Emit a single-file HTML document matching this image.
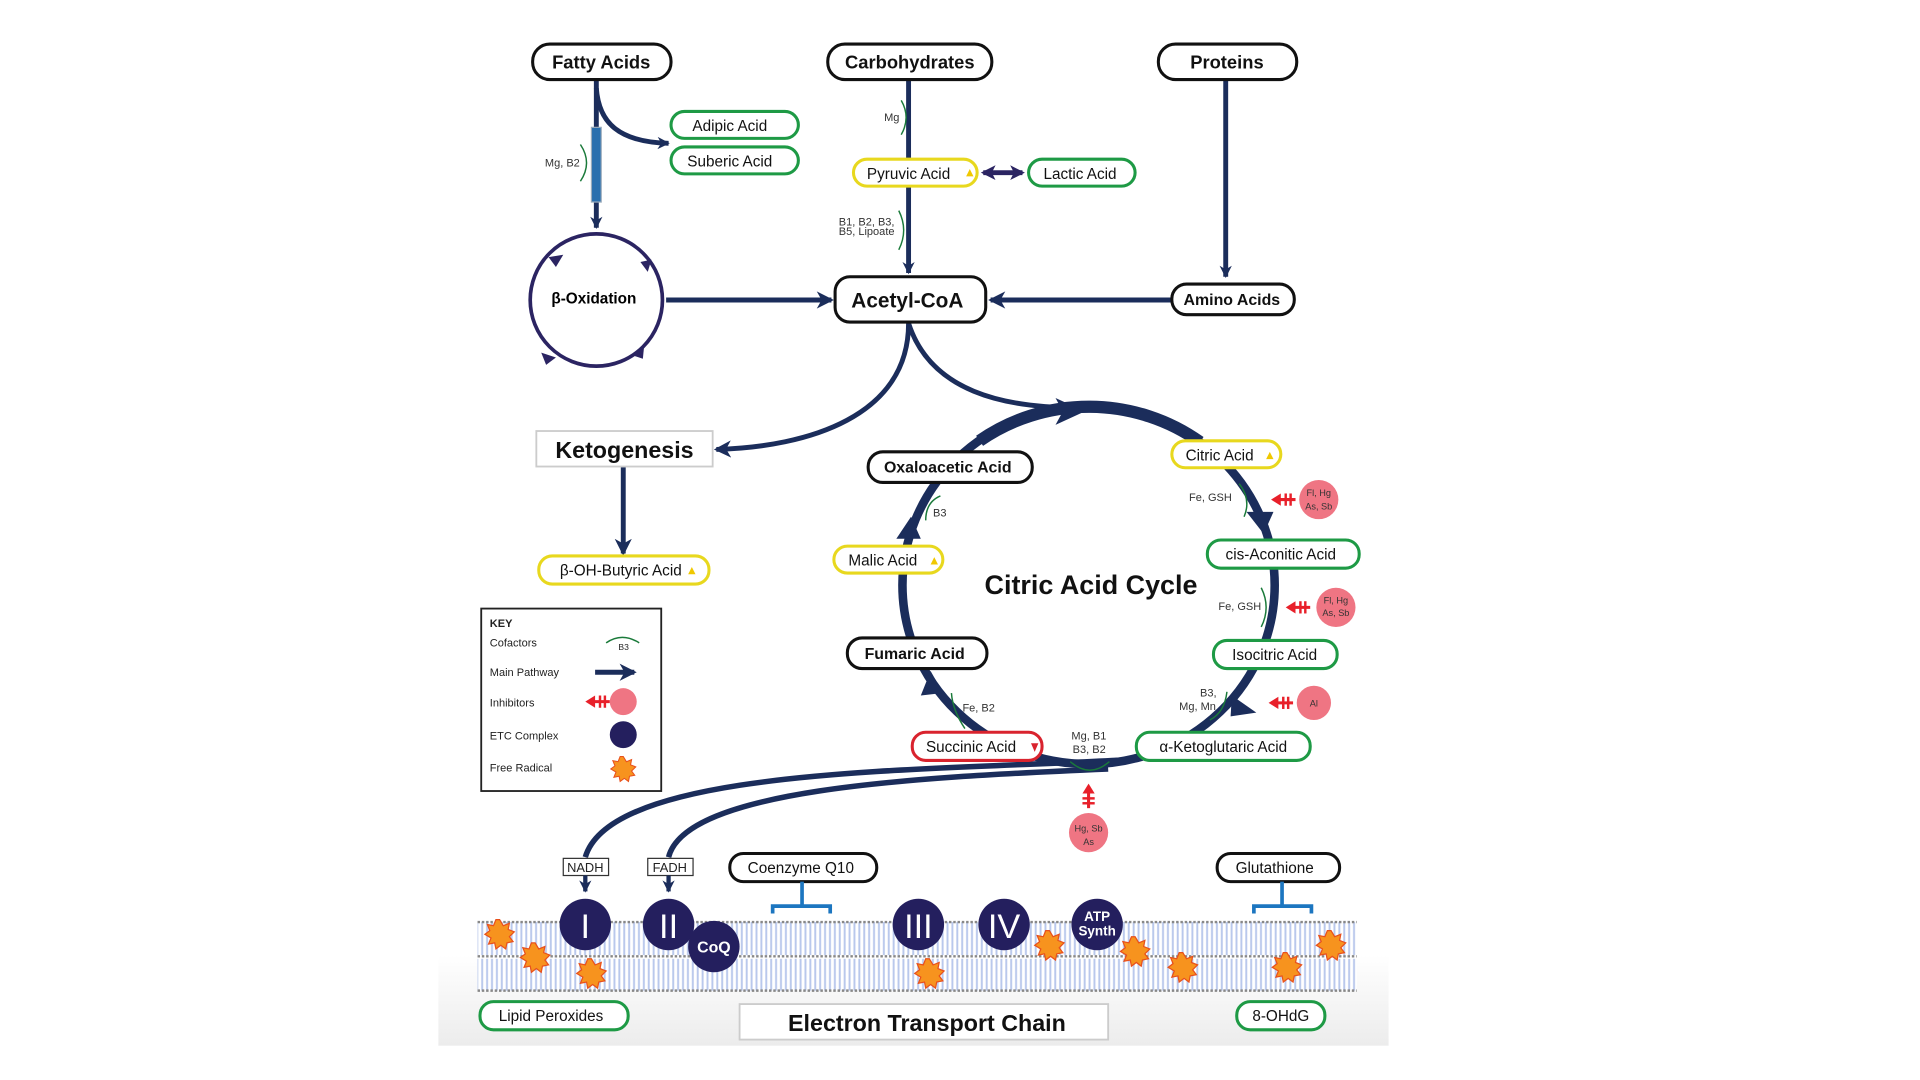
<!DOCTYPE html>
<html><head><meta charset="utf-8"><style>
html,body{margin:0;padding:0;background:#fff;}
svg{display:block;font-family:"Liberation Sans",Arial,sans-serif;}
</style></head><body>
<svg width="1920" height="1080" viewBox="0 0 1568 882" xmlns="http://www.w3.org/2000/svg">
<defs>
<marker id="ah" markerUnits="userSpaceOnUse" markerWidth="16" markerHeight="16" refX="12" refY="8" orient="auto"><path d="M0,1 L14,8 L0,15 L4,8 Z" fill="#1b2d5b"/></marker>
<marker id="ahp" markerUnits="userSpaceOnUse" markerWidth="14" markerHeight="14" refX="10" refY="7" orient="auto-start-reverse"><path d="M0,1 L12,7 L0,13 L3,7 Z" fill="#2b2462"/></marker>
<marker id="ahs" markerUnits="userSpaceOnUse" markerWidth="12" markerHeight="12" refX="9" refY="6" orient="auto"><path d="M0,1 L10,6 L0,11 L3,6 Z" fill="#1b2d5b"/></marker>
<linearGradient id="bg" x1="0" y1="0" x2="0" y2="1"><stop offset="0" stop-color="#fff"/><stop offset="1" stop-color="#ececec"/></linearGradient>
<pattern id="stripes" width="4" height="10" patternUnits="userSpaceOnUse"><rect width="4" height="10" fill="#fff"/><rect x="1" width="1.6" height="10" fill="#b9c8ec"/></pattern>
<g id="star"><polygon points="0,-12 3,-7 8,-9 7,-4 12,-2 8,2 11,6 6,7 5,12 1,9 -3,12 -4,7 -9,8 -7,3 -12,0 -8,-3 -10,-8 -5,-7 -3,-12" fill="#f7931e" stroke="#e8501c" stroke-width="1"/></g>
<g id="inh"><line x1="0" y1="0" x2="18" y2="0" stroke="#e8202a" stroke-width="2.5"/><path d="M-2,0 L6,-5 L6,5Z" fill="#e8202a"/><line x1="10" y1="-5" x2="10" y2="5" stroke="#e8202a" stroke-width="2"/><line x1="14" y1="-5" x2="14" y2="5" stroke="#e8202a" stroke-width="2"/></g>
</defs>
<rect x="358" y="780" width="776" height="74" fill="url(#bg)"/>

<rect x="390" y="753" width="718" height="27" fill="url(#stripes)"/>
<rect x="390" y="783" width="718" height="26" fill="url(#stripes)"/>
<line x1="390" y1="753" x2="1108" y2="753" stroke="#888" stroke-width="2" stroke-dasharray="2,1.5"/>
<line x1="390" y1="781" x2="1108" y2="781" stroke="#888" stroke-width="2" stroke-dasharray="2,1.5"/>
<line x1="390" y1="809" x2="1108" y2="809" stroke="#888" stroke-width="2" stroke-dasharray="2,1.5"/>

<g stroke="#1b2d5b" stroke-width="4" fill="none">
<line x1="487" y1="66" x2="487" y2="186" marker-end="url(#ahs)"/>
<path d="M487,72 C489,100 505,116 546,117" marker-end="url(#ahs)"/>
<line x1="742" y1="66" x2="742" y2="130"/>
<line x1="742" y1="152" x2="742" y2="223" marker-end="url(#ahs)"/>
<line x1="1001" y1="66" x2="1001" y2="226" marker-end="url(#ahs)"/>
<line x1="544" y1="245" x2="679" y2="245" marker-end="url(#ah)"/>
<line x1="957" y1="245" x2="809" y2="245" marker-end="url(#ah)"/>
<path d="M742,264 C742,340 660,365 585,367" marker-end="url(#ah)"/>
<path d="M742,264 C760,320 820,333 880,333"/>
<line x1="509" y1="381" x2="509" y2="452" marker-end="url(#ah)"/>
<path d="M930,620 C760,630 500,625 478,700" stroke-width="4.5"/>
<path d="M905,628 C740,635 560,645 546,700" stroke-width="4.5"/>
</g>
<rect x="483" y="104" width="8" height="61" fill="#2a6fae" stroke="#9ab" stroke-width="1"/>
<line x1="803" y1="141" x2="835" y2="141" stroke="#2b2462" stroke-width="4" marker-end="url(#ahp)" marker-start="url(#ahp)"/>
<circle cx="487" cy="245" r="54" fill="none" stroke="#2b2462" stroke-width="3"/>
<g fill="#2b2462"><path d="M448,210 l12,-2 l-6,10z"/><path d="M532,212 l-3,10 l-6,-8z"/><path d="M442,288 l12,4 l-8,6z"/><path d="M526,283 l-1,10 l-9,-3z"/></g>
<text x="485" y="248" font-size="12.5" font-weight="bold" text-anchor="middle">β-Oxidation</text>

<ellipse cx="889" cy="478" rx="152" ry="146" fill="none" stroke="#1b2d5b" stroke-width="7"/>
<path d="M800,360 A152,146 0 0 1 980,361" fill="none" stroke="#1b2d5b" stroke-width="10"/>
<g fill="#1b2d5b">
<path d="M862,325 L886,336 L862,347 L868,336Z"/>
<path d="M1018,418 L1040,418 L1032,436Z"/>
<path d="M1006,568 L1026,582 L1005,585Z"/>
<path d="M752,568 L760,548 L770,566Z"/>
<path d="M732,440 L744,422 L752,440Z"/>
</g>

<g stroke="#1a7a3a" stroke-width="1.2" fill="none">
<path d="M736,82 Q744,96 736,110"/>
<path d="M474,118 Q484,133 474,148"/>
<path d="M734,172 Q742,188 734,204"/>
<path d="M756,425 Q756,410 768,405"/>
<path d="M1012,395 Q1022,408 1016,422"/>
<path d="M1030,480 Q1038,496 1030,512"/>
<path d="M1002,565 Q1000,582 988,588"/>
<path d="M788,595 Q778,580 777,566"/>
<path d="M874,622 Q890,636 906,622"/>
</g>
<g font-size="9" fill="#333">
<text x="722" y="99">Mg</text>
<text x="445" y="136">Mg, B2</text>
<text x="685" y="184">B1, B2, B3,</text>
<text x="685" y="192">B5, Lipoate</text>
<text x="762" y="422">B3</text>
<text x="971" y="409">Fe, GSH</text>
<text x="995" y="498">Fe, GSH</text>
<text x="980" y="569">B3,</text>
<text x="963" y="580">Mg, Mn</text>
<text x="786" y="581">Fe, B2</text>
<text x="875" y="604">Mg, B1</text>
<text x="876" y="615">B3, B2</text>
</g>

<circle cx="1077" cy="408" r="16" fill="#ef7583"/>
<circle cx="1091" cy="496" r="16" fill="#ef7583"/>
<circle cx="1073" cy="574" r="14" fill="#ef7583"/>
<circle cx="889" cy="680" r="16" fill="#ef7583"/>
<g font-size="7.5" text-anchor="middle" fill="#333">
<text x="1077" y="405">Fl, Hg</text><text x="1077" y="416">As, Sb</text>
<text x="1091" y="493">Fl, Hg</text><text x="1091" y="503">As, Sb</text>
<text x="1073" y="577">Al</text>
<text x="889" y="679">Hg, Sb</text><text x="889" y="690">As</text>
</g>
<use href="#inh" x="1040" y="408"/>
<use href="#inh" x="1052" y="496"/>
<use href="#inh" x="1038" y="574"/>
<use href="#inh" transform="translate(889,642) rotate(90)"/>

<g fill="#fff" stroke-width="2.5">
<rect x="435" y="36" width="113" height="29" rx="14" stroke="#111"/>
<rect x="676" y="36" width="134" height="29" rx="14" stroke="#111"/>
<rect x="946" y="36" width="113" height="29" rx="14" stroke="#111"/>
<rect x="548" y="91" width="104" height="22" rx="11" stroke="#1e9a45"/>
<rect x="548" y="120" width="104" height="22" rx="11" stroke="#1e9a45"/>
<rect x="697" y="130" width="101" height="22" rx="11" stroke="#e8d81e"/>
<rect x="840" y="130" width="87" height="22" rx="11" stroke="#1e9a45"/>
<rect x="682" y="226" width="123" height="37" rx="12" stroke="#111"/>
<rect x="957" y="232" width="100" height="25" rx="12" stroke="#111"/>
<rect x="438" y="352" width="144" height="29" rx="0" stroke="#ccc" stroke-width="1.5"/>
<rect x="440" y="454" width="139" height="23" rx="11" stroke="#e8d81e"/>
<rect x="709" y="369" width="134" height="25" rx="12" stroke="#111"/>
<rect x="957" y="360" width="89" height="22" rx="11" stroke="#e8d81e"/>
<rect x="681" y="446" width="89" height="22" rx="11" stroke="#e8d81e"/>
<rect x="986" y="441" width="124" height="23" rx="11" stroke="#1e9a45"/>
<rect x="692" y="521" width="114" height="25" rx="12" stroke="#111"/>
<rect x="991" y="523" width="101" height="23" rx="11" stroke="#1e9a45"/>
<rect x="745" y="598" width="106" height="23" rx="11" stroke="#d9232e"/>
<rect x="928" y="598" width="142" height="23" rx="11" stroke="#1e9a45"/>
<rect x="596" y="697" width="120" height="23" rx="11" stroke="#111"/>
<rect x="994" y="697" width="100" height="23" rx="11" stroke="#111"/>
<rect x="392" y="818" width="121" height="23" rx="11" stroke="#1e9a45"/>
<rect x="1010" y="818" width="72" height="23" rx="11" stroke="#1e9a45"/>
<rect x="604" y="820" width="301" height="29" stroke="#ccc" stroke-width="1.5"/>
</g>
<g fill="#f0c800"><path d="M789,144 l3,-6 l3,6z"/><path d="M1034,375 l3,-6 l3,6z"/><path d="M760,461 l3,-6 l3,6z"/><path d="M562,469 l3,-6 l3,6z"/></g>
<path d="M842,607 l6,0 l-3,7z" fill="#d9232e"/>
<g text-anchor="middle" fill="#111">
<g font-size="15" font-weight="bold"><text x="491" y="56">Fatty Acids</text><text x="743" y="56">Carbohydrates</text><text x="1002" y="56">Proteins</text></g>
<g font-size="12.5"><text x="596" y="107">Adipic Acid</text><text x="596" y="136">Suberic Acid</text><text x="742" y="146">Pyruvic Acid</text><text x="882" y="146">Lactic Acid</text>
<text x="507" y="470">β-OH-Butyric Acid</text><text x="996" y="376">Citric Acid</text><text x="721" y="462">Malic Acid</text><text x="1046" y="457">cis-Aconitic Acid</text><text x="1041" y="539">Isocitric Acid</text><text x="793" y="614">Succinic Acid</text><text x="999" y="614">α-Ketoglutaric Acid</text><text x="654" y="713">Coenzyme Q10</text><text x="1041" y="713">Glutathione</text><text x="450" y="834">Lipid Peroxides</text><text x="1046" y="834">8-OHdG</text></g>
<g font-size="13" font-weight="bold"><text x="1006" y="249">Amino Acids</text><text x="774" y="386">Oxaloacetic Acid</text><text x="747" y="538">Fumaric Acid</text></g>
<text x="741" y="251" font-size="17" font-weight="bold">Acetyl-CoA</text>
<text x="510" y="374" font-size="19" font-weight="bold">Ketogenesis</text>
<text x="891" y="485" font-size="22" font-weight="bold">Citric Acid Cycle</text>
<text x="757" y="842" font-size="19" font-weight="bold">Electron Transport Chain</text>
</g>

<rect x="393" y="497" width="147" height="149" fill="#fff" stroke="#222" stroke-width="1.5"/>
<g font-size="9" fill="#222">
<text x="400" y="512" font-weight="bold">KEY</text>
<text x="400" y="528">Cofactors</text>
<text x="400" y="552">Main Pathway</text>
<text x="400" y="577">Inhibitors</text>
<text x="400" y="604">ETC Complex</text>
<text x="400" y="630">Free Radical</text>
<text x="505" y="531" font-size="7">B3</text>
</g>
<path d="M495,525 Q508,516 522,525" stroke="#1a7a3a" stroke-width="1.2" fill="none"/>
<line x1="486" y1="549" x2="518" y2="549" stroke="#1b2d5b" stroke-width="4" marker-end="url(#ah)"/>
<use href="#inh" x="480" y="573"/>
<circle cx="509" cy="573" r="11" fill="#ef7583"/>
<circle cx="509" cy="600" r="11" fill="#241f5e"/>
<use href="#star" transform="translate(509,628) scale(0.85)"/>

<g stroke="#1c76c0" stroke-width="3" fill="none"><path d="M655,720 V740 M631,746 V740 H678 V746"/><path d="M1047,720 V740 M1024,746 V740 H1071 V746"/></g>
<rect x="460" y="701" width="37" height="14" fill="#fff" stroke="#333"/>
<rect x="529" y="701" width="37" height="14" fill="#fff" stroke="#333"/>
<g font-size="10.5" text-anchor="middle" fill="#222"><text x="478" y="712">NADH</text><text x="547" y="712">FADH</text></g>
<g stroke="#1b2d5b" stroke-width="3.5"><line x1="478" y1="715" x2="478" y2="728" marker-end="url(#ahs)"/><line x1="546" y1="715" x2="546" y2="728" marker-end="url(#ahs)"/></g>
<g fill="#241f5e"><circle cx="478" cy="755" r="21"/><circle cx="546" cy="755" r="21"/><circle cx="583" cy="773" r="21"/><circle cx="750" cy="755" r="21"/><circle cx="820" cy="755" r="21"/><circle cx="896" cy="755" r="21"/></g>
<g fill="#fff" text-anchor="middle" font-weight="bold">
<text x="478" y="766" font-size="28" font-weight="normal">I</text>
<text x="546" y="766" font-size="28" font-weight="normal">II</text>
<text x="583" y="778" font-size="13">CoQ</text>
<text x="750" y="766" font-size="28" font-weight="normal">III</text>
<text x="820" y="766" font-size="28" font-weight="normal">IV</text>
<text x="896" y="752" font-size="11">ATP</text>
<text x="896" y="764" font-size="11">Synth</text>
</g>
<use href="#star" x="408" y="763"/><use href="#star" x="437" y="782"/><use href="#star" x="483" y="795"/><use href="#star" x="759" y="795"/><use href="#star" x="857" y="772"/><use href="#star" x="927" y="777"/><use href="#star" x="966" y="790"/><use href="#star" x="1051" y="790"/><use href="#star" x="1087" y="772"/>
</svg>
</body></html>
